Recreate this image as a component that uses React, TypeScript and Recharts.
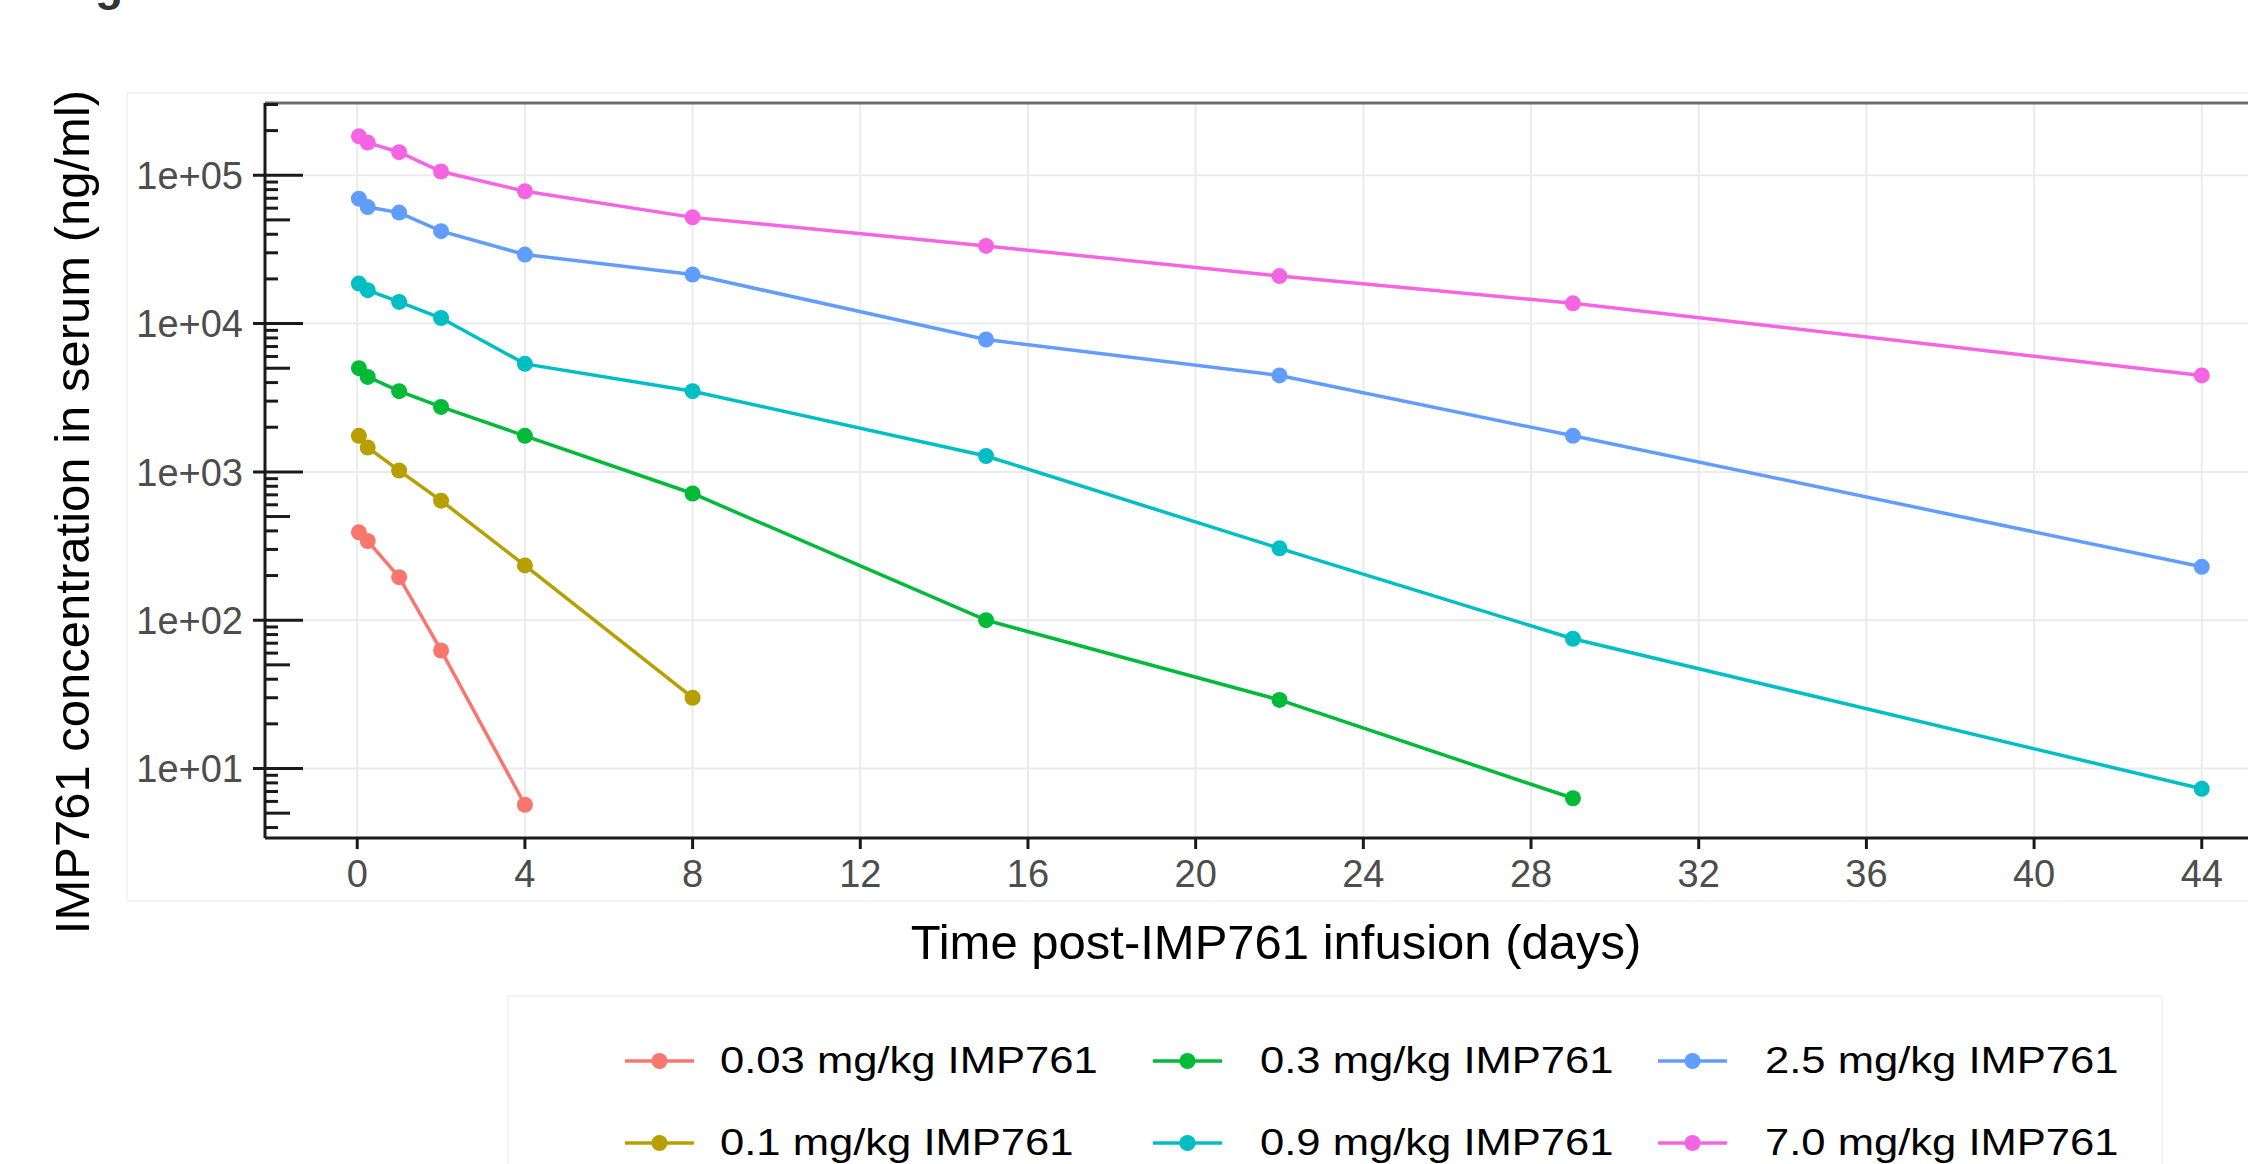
import React from 'react';
import { LineChart, Line, XAxis, YAxis, CartesianGrid, ReferenceLine } from 'recharts';

// sampling days after the end of infusion
const days = [0.04, 0.25, 1, 2, 4, 8, 15, 22, 29, 44];

// serum concentration (ng/ml)
const dose003 = [391, 342, 195, 62.5, 5.7];
const dose01 = [1750, 1460, 1020, 640, 234, 30];
const dose03 = [5000, 4370, 3500, 2740, 1750, 715, 100, 29, 6.3];
const dose09 = [18600, 16800, 14000, 10900, 5350, 3500, 1280, 305, 75, 7.3];
const dose25 = [69500, 61000, 56000, 42000, 29200, 21400, 7810, 4470, 1750, 229];
const dose70 = [183000, 166000, 143000, 106000, 78000, 52000, 33400, 20900, 13700, 4470];

const seriesNames = [
  '0.03 mg/kg IMP761',
  '0.1 mg/kg IMP761',
  '0.3 mg/kg IMP761',
  '0.9 mg/kg IMP761',
  '2.5 mg/kg IMP761',
  '7.0 mg/kg IMP761',
];
const seriesValues = [dose003, dose01, dose03, dose09, dose25, dose70];
const seriesColors = ['#F8766D', '#B79F00', '#00BA38', '#00BFC4', '#619CFF', '#F564E3'];

const xTicks = [0, 4, 8, 12, 16, 20, 24, 28, 32, 36, 40, 44];
const decades = [1, 10, 100, 1000, 10000, 100000];
const logSteps = [1, 2, 3, 4, 5, 6, 7, 8, 9];
const majorY = [10, 100, 1000, 10000, 100000];

const Y_DOMAIN: [number, number] = [3.4, 307000];
const X_DOMAIN: [number, number] = [-2.2, 46.2];

const yTicks = decades
  .flatMap((d) => logSteps.map((s) => d * s))
  .filter((v) => v >= Y_DOMAIN[0] && v <= Y_DOMAIN[1]);

const FONT = "'Liberation Sans', Arial, sans-serif";

const fmtSci = (v: number) => {
  const e = Math.round(Math.log10(v));
  return `1e+${String(e).padStart(2, '0')}`;
};

// annotation_logticks style: long at decades, mid at 5, short elsewhere
function LogTick(props: any) {
  const { x, y, payload } = props;
  const v = payload.value as number;
  const mant = Math.round(v / Math.pow(10, Math.floor(Math.log10(v) + 1e-9)));
  const major = mant === 1;
  const len = major ? 38 : mant === 5 ? 25 : 13;
  return (
    <g>
      <line x1={major ? x - 12 : x} x2={x + len} y1={y} y2={y} stroke="#1a1a1a" strokeWidth={3} />
      {major && (
        <text x={x - 22} y={y} dy="0.36em" textAnchor="end" fontSize={38} fontFamily={FONT} fill="#4D4D4D">
          {fmtSci(v)}
        </text>
      )}
    </g>
  );
}

function LegendKey({ color }: { color: string }) {
  return (
    <svg width={69} height={20} style={{ display: 'block' }}>
      <line x1={0} x2={69} y1={10} y2={10} stroke={color} strokeWidth={3.5} />
      <circle cx={34.5} cy={10} r={8} fill={color} />
    </svg>
  );
}

const legendKeyX = [625, 1153, 1658];
const legendTextX = [720, 1260, 1765];
const legendRows = [1061, 1143];

export default function App() {
  return (
    <div
      style={{
        position: 'absolute',
        left: 0,
        top: 0,
        width: 2248,
        height: 1164,
        overflow: 'hidden',
        background: '#fff',
        fontFamily: FONT,
      }}
    >
      {/* cropped figure letter at the top */}
      <svg width={200} height={30} style={{ position: 'absolute', left: 0, top: 0 }}>
        <text x={95} y={0} fontSize={46} fontWeight="bold" fill="#333" fontFamily={FONT}>
          g
        </text>
      </svg>

      {/* faint plot background frame */}
      <div
        style={{
          position: 'absolute',
          left: 126,
          top: 92,
          width: 2300,
          height: 810,
          border: '2px solid #F4F4F4',
          boxSizing: 'border-box',
        }}
      />

      <div style={{ position: 'absolute', left: 0, top: 0 }}>
        <LineChart width={2294} height={938} margin={{ top: 103, right: 0, bottom: 0, left: 0 }}>
          <CartesianGrid
            stroke="#EBEBEB"
            strokeWidth={2}
            horizontalValues={majorY}
            verticalValues={xTicks}
          />
          <XAxis
            type="number"
            dataKey="day"
            domain={X_DOMAIN}
            ticks={xTicks}
            interval={0}
            allowDataOverflow
            height={100}
            axisLine={{ stroke: '#1a1a1a', strokeWidth: 3 }}
            tickLine={{ stroke: '#1a1a1a', strokeWidth: 3 }}
            tickSize={11}
            tickMargin={11}
            tick={{ fontSize: 38, fill: '#4D4D4D', fontFamily: FONT }}
          />
          <YAxis
            type="number"
            scale="log"
            domain={Y_DOMAIN}
            ticks={yTicks}
            interval={0}
            allowDataOverflow
            width={265}
            axisLine={{ stroke: '#1a1a1a', strokeWidth: 3 }}
            tickLine={false}
            tickSize={0}
            tickMargin={0}
            tick={<LogTick />}
          />
          <ReferenceLine y={Y_DOMAIN[1]} stroke="#6e6e6e" strokeWidth={3} ifOverflow="visible" />
          {seriesValues.map((vals, i) => (
            <Line
              key={seriesNames[i]}
              name={seriesNames[i]}
              data={vals.map((c, j) => ({ day: days[j], conc: c }))}
              dataKey="conc"
              type="linear"
              stroke={seriesColors[i]}
              strokeWidth={3.5}
              dot={{ r: 8, fill: seriesColors[i], stroke: seriesColors[i], strokeWidth: 0 }}
              isAnimationActive={false}
            />
          ))}
        </LineChart>
      </div>

      {/* y axis title */}
      <div
        style={{
          position: 'absolute',
          left: 72,
          top: 512,
          transform: 'translate(-50%, -50%) rotate(-90deg)',
          whiteSpace: 'nowrap',
          fontSize: 49,
          color: '#000',
        }}
      >
        IMP761 concentration in serum (ng/ml)
      </div>

      {/* x axis title */}
      <div
        style={{
          position: 'absolute',
          left: 1276,
          top: 942,
          transform: 'translate(-50%, -50%)',
          whiteSpace: 'nowrap',
          fontSize: 49,
          color: '#000',
        }}
      >
        Time post-IMP761 infusion (days)
      </div>

      {/* legend box */}
      <div
        style={{
          position: 'absolute',
          left: 507,
          top: 995,
          width: 1656,
          height: 200,
          border: '2px solid #F4F4F4',
          boxSizing: 'border-box',
        }}
      />
      {seriesNames.map((name, i) => {
        const col = Math.floor(i / 2);
        const row = i % 2;
        return (
          <React.Fragment key={name}>
            <div
              style={{
                position: 'absolute',
                left: legendKeyX[col],
                top: legendRows[row] - 10,
              }}
            >
              <LegendKey color={seriesColors[i]} />
            </div>
            <div
              style={{
                position: 'absolute',
                left: legendTextX[col],
                top: legendRows[row],
                transform: 'translateY(-50%) scaleX(1.21)',
                transformOrigin: 'left center',
                whiteSpace: 'nowrap',
                fontSize: 36,
                lineHeight: '40px',
                color: '#000',
              }}
            >
              {name}
            </div>
          </React.Fragment>
        );
      })}
    </div>
  );
}
